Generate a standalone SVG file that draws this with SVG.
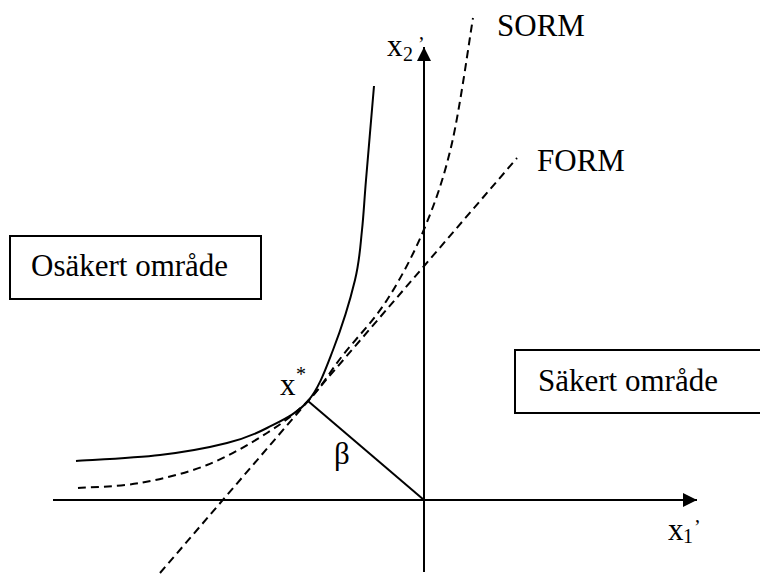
<svg xmlns="http://www.w3.org/2000/svg" width="760" height="574" viewBox="0 0 760 574">
<style>
.t{font-family:"Liberation Serif","Times New Roman",serif;fill:#000;font-size:31px}
.s{font-size:20px}
.ln{fill:none;stroke:#000;stroke-width:2}
.dash{fill:none;stroke:#000;stroke-width:2;stroke-dasharray:8 5}
.box{fill:#fff;stroke:#000;stroke-width:2}
</style>
<defs>
<marker id="ah" viewBox="0 0 14 14" refX="14" refY="7" markerWidth="14" markerHeight="14" markerUnits="userSpaceOnUse" orient="auto">
<path d="M0,0 L14,7 L0,14 Z" fill="#000"/>
</marker>
</defs>
<rect width="760" height="574" fill="#fff"/>
<g id="connectors">
<line id="axis-x1" class="ln" x1="53" y1="500" x2="697" y2="500" marker-end="url(#ah)"/>
<line id="axis-x2" class="ln" x1="424" y1="572" x2="424" y2="47" marker-end="url(#ah)"/>
<path id="limit-state" class="ln" d="M76,461 C90,460 134.8,458 160,455 C185.2,452 209.2,447.5 227,443 C244.8,438.5 253.5,435 267,428 C280.5,421 297,414 308,401 C319,388 325.2,370.2 333,350 C340.8,329.8 350.2,300 355,280 C359.8,260 360.2,246.7 362,230 C363.8,213.3 364,204 366,180 C368,156 372.7,101.7 374,86"/>
<path id="sorm" class="dash" d="M78,488 C88.3,487.2 118.5,486.8 140,483 C161.5,479.2 185.8,473.3 207,465 C228.2,456.7 250.2,443.7 267,433 C283.8,422.3 295.3,413.5 308,401 C320.7,388.5 329.8,371.8 343,355 C356.2,338.2 373.3,321.3 387,300 C400.7,278.7 414.2,253.2 425,227 C435.8,200.8 444,177.8 452,143 C460,108.2 469.5,38.8 473,18"/>
<line id="form" class="dash" x1="160" y1="573" x2="517" y2="158"/>
<line id="beta-line" class="ln" x1="308" y1="401" x2="424" y2="500"/>
</g>
<g id="osakert">
<rect class="box" x="10" y="236" width="251" height="63"/>
<text class="t" x="31" y="276">Osäkert område</text>
</g>
<g id="sakert">
<rect class="box" x="515" y="350" width="250" height="63"/>
<text class="t" x="538" y="391">Säkert område</text>
</g>
<g id="labels">
<text class="t" x="497" y="36">SORM</text>
<text class="t" x="537" y="171">FORM</text>
<text class="t" x="387" y="56">x<tspan class="s" x="403" y="61">2</tspan><tspan class="s" x="418" y="51">’</tspan></text>
<text class="t" x="668" y="540">x<tspan class="s" x="683" y="543">1</tspan><tspan class="s" x="694" y="534">’</tspan></text>
<text class="t" x="280" y="395">x<tspan class="s" x="296" y="381">*</tspan></text>
<text class="t" x="334" y="464">β</text>
</g>
</svg>
